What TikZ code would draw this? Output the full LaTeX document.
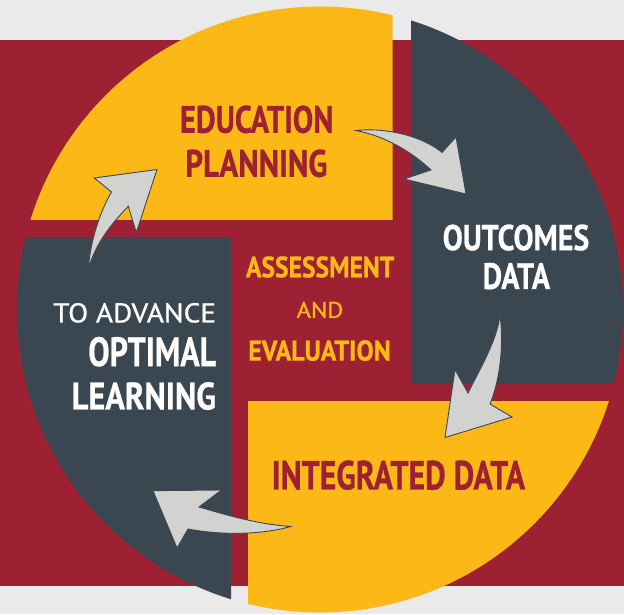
\documentclass[tikz,border=0pt]{standalone}
\usepackage{fontspec}
\setmainfont{PT Sans}
\newfontfamily\heavyfam[BoldFeatures={FakeBold=0.7}]{PT Sans}
\newfontfamily\medfam[FakeBold=0.9]{PT Sans}
\usepackage{graphicx}
\definecolor{bgg}{HTML}{EAEAEA}
\definecolor{mar}{HTML}{9D2033}
\definecolor{ylw}{HTML}{FBB817}
\definecolor{slate}{HTML}{3B4750}
\definecolor{arr}{HTML}{D2D3D1}
\newcommand{\txtfit}[3]{\resizebox{#1pt}{#2pt}{#3}}
\newcommand{\hv}{\heavyfam\bfseries}
\tikzset{
  lbl/.style={inner sep=0pt, outer sep=0pt, anchor=south west},
  blockarrow/.style={fill=arr, draw=slate, line width=0.9pt, line join=miter},
}
\begin{document}
\begin{tikzpicture}[x=1pt,y=-1pt]
\useasboundingbox (0,0) rectangle (624,614);
\fill[bgg] (0,0) rectangle (624,614);
\fill[mar] (0,40) rectangle (624,586);
% circle pieces
\begin{scope}
  \clip (0,0) rectangle (392.5,219);
  \fill[ylw] (320,309.5) circle (303pt);
\end{scope}
\begin{scope}
  \clip (411,0) rectangle (624,383);
  \fill[slate] (320,309.5) circle (303pt);
\end{scope}
\begin{scope}
  \clip (248,401) rectangle (624,614);
  \fill[ylw] (320,309.5) circle (303pt);
\end{scope}
\begin{scope}
  \clip (0,237) rectangle (231,614);
  \fill[slate] (320,309.5) circle (303pt);
\end{scope}
% arrows
\draw[blockarrow] (356,130.5) .. controls (390,127) and (425,138) .. (442,152.5)
  -- (456,137) -- (466,194) -- (404,179) -- (431,170)
  .. controls (412,152) and (385,136) .. cycle;
\draw[blockarrow] (500,315) .. controls (504,345) and (500,380) .. (490,404)
  -- (512,417) -- (445,437.5) -- (455,369.5) -- (468,393)
  .. controls (482,365) and (497,340) .. cycle;
\draw[blockarrow] (290.5,526.5) .. controls (265,534) and (225,536) .. (188,529)
  -- (177,548) -- (153,490.7) -- (221.5,490) -- (199,507)
  .. controls (220,513) and (255,524) .. cycle;
\draw[blockarrow] (88.3,269) .. controls (90,245) and (98,215) .. (111.5,192)
  -- (94.3,178) -- (157,169.5) -- (136.3,232.5) -- (128.3,206.3)
  .. controls (110,225) and (95,245) .. cycle;
% texts
\node[lbl, text=mar] (edu1) at (180,133.3) {\txtfit{153.3}{27.3}{\hv EDUCATION}};
\node[lbl, text=mar] (edu2) at (185.3,177.3) {\txtfit{142}{27.3}{\hv PLANNING}};
\node[lbl, text=white] (out1) at (442.7,250.7) {\txtfit{146.6}{25.7}{\hv OUTCOMES}};
\node[lbl, text=white] (out2) at (482.7,289.3) {\txtfit{67.3}{26}{\hv DATA}};
\node[lbl, text=ylw] (as1) at (246,277.7) {\txtfit{148.3}{21}{\hv ASSESSMENT}};
\node[lbl, text=ylw] (as2) at (296.7,318) {\txtfit{46.6}{16}{\medfam AND}};
\node[lbl, text=ylw] (as3) at (248.3,361) {\txtfit{142.4}{20.5}{\hv EVALUATION}};
\node[lbl, text=white] (adv1) at (53.3,322.7) {\txtfit{162.7}{19.3}{\medfam TO ADVANCE}};
\node[lbl, text=white] (adv2) at (88.3,366.7) {\txtfit{127.7}{29.3}{\hv OPTIMAL}};
\node[lbl, text=white] (adv3) at (71.7,410) {\txtfit{144.3}{27.3}{\hv LEARNING}};
\node[lbl, text=mar] (intd) at (271.7,490) {\txtfit{253.3}{29}{\hv INTEGRATED DATA}};
\end{tikzpicture}
\end{document}
